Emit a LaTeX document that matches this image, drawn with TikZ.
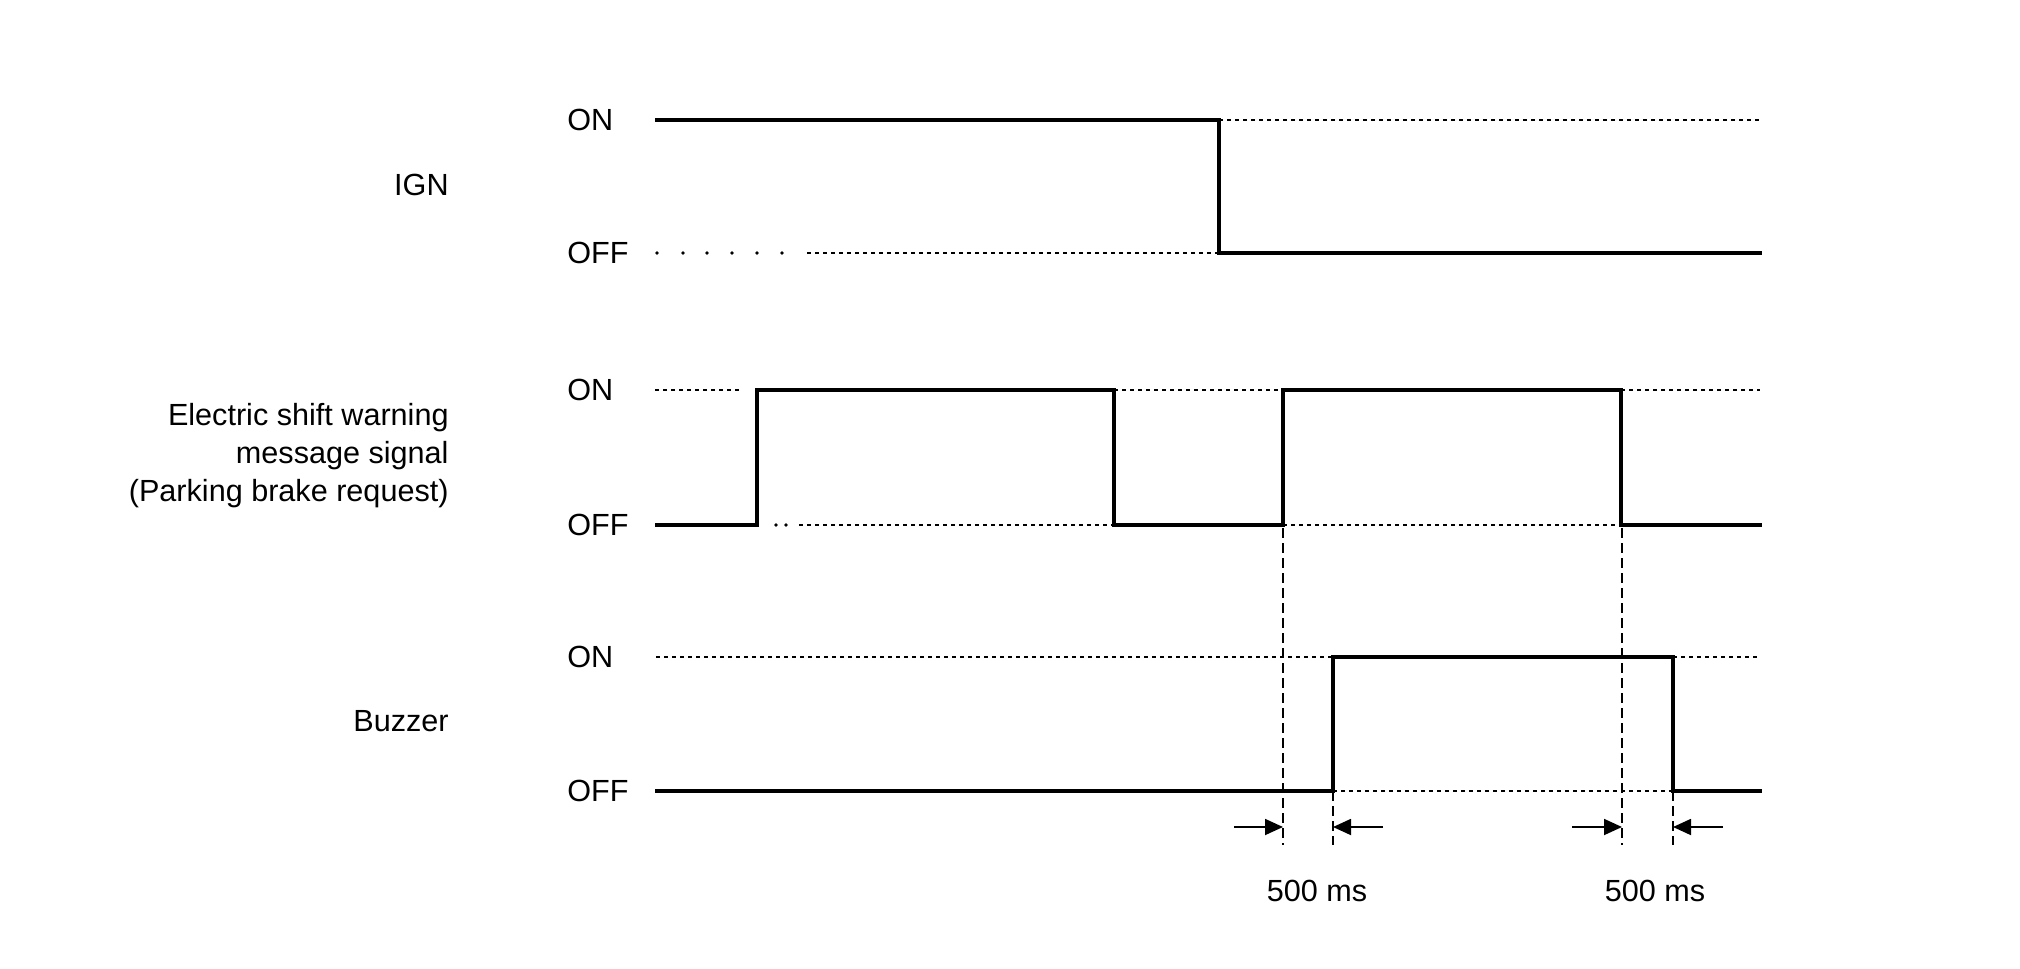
\documentclass[tikz,border=0pt]{standalone}
\usepackage{fontspec}
\setmainfont{Liberation Sans}
\usetikzlibrary{arrows.meta}
\begin{document}
\begin{tikzpicture}[x=0.5pt,y=-0.5pt,
  sig/.style={line width=2.4pt, line join=miter},
  lvl/.style={line width=0.6pt, dash pattern=on 2pt off 2pt},
  guide/.style={line width=0.65pt, dash pattern=on 5pt off 2.5pt},
  dimarrow/.style={line width=0.9pt, -{Triangle[length=9pt,width=8pt]}},
  lab/.style={font=\fontsize{15.3}{19}\selectfont, inner sep=0pt},
  dot/.style={fill=black, circle, inner sep=0pt, minimum size=1.9pt}]
\useasboundingbox (0,0) rectangle (2020,969);
% left labels
\node[lab, anchor=east] (ign) at (449,185) {IGN};
\node[lab, anchor=east, align=right] (esw) at (449,456) {Electric shift warning\\message signal\\(Parking brake request)};
\node[lab, anchor=east] (buz) at (449,721) {Buzzer};
% level labels
\node[lab, anchor=west] (ignon) at (567,120) {ON};
\node[lab, anchor=west] (ignoff) at (567,253) {OFF};
\node[lab, anchor=west] (eswon) at (567,390) {ON};
\node[lab, anchor=west] (eswoff) at (567,525) {OFF};
\node[lab, anchor=west] (buzon) at (567,657) {ON};
\node[lab, anchor=west] (buzoff) at (567,791) {OFF};
% IGN
\draw[sig] (655,120) -- (1219,120) -- (1219,253) -- (1762,253);
\draw[lvl] (1219,120) -- (1760,120);
\foreach \x in {657,683,707,732,757,782} \node[dot] at (\x,253) {};
\draw[lvl] (807,253) -- (1219,253);
% Electric shift warning
\draw[lvl] (655,390) -- (742,390);
\draw[sig] (655,525) -- (757,525) -- (757,390) -- (1114,390) -- (1114,525) -- (1283,525) -- (1283,390) -- (1621,390) -- (1621,525) -- (1762,525);
\draw[lvl] (1114,390) -- (1283,390);
\draw[lvl] (1621,390) -- (1760,390);
\foreach \x in {776,786} \node[dot] at (\x,525) {};
\draw[lvl] (799,525) -- (1114,525);
\draw[lvl] (1283,525) -- (1621,525);
% Buzzer
\draw[lvl] (656,657) -- (1333,657);
\draw[sig] (655,791) -- (1333,791) -- (1333,657) -- (1673,657) -- (1673,791) -- (1762,791);
\draw[lvl] (1333,791) -- (1673,791);
\draw[lvl] (1673,657) -- (1760,657);
% guides
\coordinate (g1t) at (1283,528); \coordinate (g1b) at (1283,845);
\coordinate (g2t) at (1333,791); \coordinate (g2b) at (1333,845);
\coordinate (g3t) at (1622,528); \coordinate (g3b) at (1622,845);
\coordinate (g4t) at (1673,791); \coordinate (g4b) at (1673,845);
\draw[guide] (g1t) -- (g1b);
\draw[guide] (g2t) -- (g2b);
\draw[guide] (g3t) -- (g3b);
\draw[guide] (g4t) -- (g4b);
% dimension arrows
\coordinate (a1) at (1234,827); \coordinate (a1e) at (1283,827);
\coordinate (a2) at (1383,827); \coordinate (a2e) at (1333,827);
\coordinate (a3) at (1572,827); \coordinate (a3e) at (1622,827);
\coordinate (a4) at (1723,827); \coordinate (a4e) at (1673,827);
\draw[dimarrow] (a1) -- (a1e);
\draw[dimarrow] (a2) -- (a2e);
\draw[dimarrow] (a3) -- (a3e);
\draw[dimarrow] (a4) -- (a4e);
\node[lab] (t1) at (1317,891) {500 ms};
\node[lab] (t2) at (1655,891) {500 ms};
\end{tikzpicture}
\end{document}
